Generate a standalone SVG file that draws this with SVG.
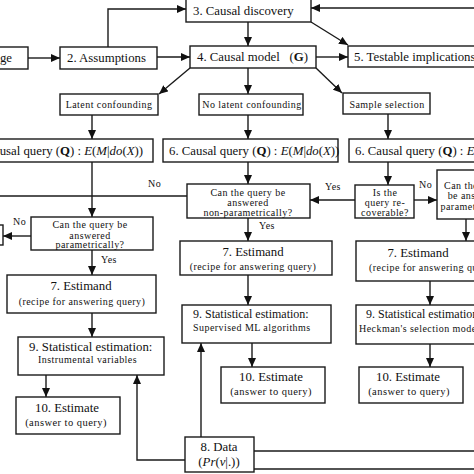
<svg xmlns="http://www.w3.org/2000/svg" width="474" height="474" viewBox="0 0 474 474">
<style>
.b{fill:#fff;stroke:#1a1a1a;stroke-width:1.4}
.c{fill:none;stroke:#1a1a1a;stroke-width:1.4}
text{font-family:"Liberation Serif","DejaVu Serif",serif;font-size:12.8px;fill:#111}
.s{font-size:10px;letter-spacing:0.45px}
.m{text-anchor:middle}
.e{text-anchor:end}
.i{font-style:italic}
.bd{font-weight:bold}
</style>
<defs>
<marker id="a" markerUnits="userSpaceOnUse" markerWidth="9" markerHeight="8" refX="9" refY="4" orient="auto">
<path d="M0,0 L9,4 L0,8 z" fill="#111"/>
</marker>
</defs>
<rect width="474" height="474" fill="#fff"/>
<g id="connectors">
<path class="c" d="M28,58 H60" marker-end="url(#a)"/>
<path class="c" d="M108,47 V9 H186" marker-end="url(#a)"/>
<path class="c" d="M474,8 H311" marker-end="url(#a)"/>
<path class="c" d="M157,57 H190" marker-end="url(#a)"/>
<path class="c" d="M248,22 V46" marker-end="url(#a)"/>
<path class="c" d="M311,22 L348,45" marker-end="url(#a)"/>
<path class="c" d="M316,57 H348" marker-end="url(#a)"/>
<path class="c" d="M190,68 L159,94" marker-end="url(#a)"/>
<path class="c" d="M248,68 V94" marker-end="url(#a)"/>
<path class="c" d="M316,68 L342,93" marker-end="url(#a)"/>
<path class="c" d="M92,115 V139" marker-end="url(#a)"/>
<path class="c" d="M248,115 V139" marker-end="url(#a)"/>
<path class="c" d="M388,114 V139" marker-end="url(#a)"/>
<path class="c" d="M92,162 V217" marker-end="url(#a)"/>
<path class="c" d="M248,162 V184" marker-end="url(#a)"/>
<path class="c" d="M388,162 V185" marker-end="url(#a)"/>
<path class="c" d="M187,196 H0"/>
<path class="c" d="M31,236 H3" marker-end="url(#a)"/>
<path class="c" d="M92,250 V275" marker-end="url(#a)"/>
<path class="c" d="M355,200 H310" marker-end="url(#a)"/>
<path class="c" d="M414,200 H437" marker-end="url(#a)"/>
<path class="c" d="M248,218 V241" marker-end="url(#a)"/>
<path class="c" d="M466,219 V241" marker-end="url(#a)"/>
<path class="c" d="M92,313 V337" marker-end="url(#a)"/>
<path class="c" d="M248,275 V305" marker-end="url(#a)"/>
<path class="c" d="M430,281 V305" marker-end="url(#a)"/>
<path class="c" d="M46,375 V397" marker-end="url(#a)"/>
<path class="c" d="M252,343 V367" marker-end="url(#a)"/>
<path class="c" d="M430,344 V367" marker-end="url(#a)"/>
<path class="c" d="M185,460 H137 V375" marker-end="url(#a)"/>
<path class="c" d="M201,437 V343" marker-end="url(#a)"/>
<path class="c" d="M254,451 H474"/>
<path class="c" d="M254,469 H474"/>
<text class="s" x="148" y="187">No</text>
<text class="s" x="13" y="225">No</text>
<text class="s" x="101" y="262.5">Yes</text>
<text class="s" x="259" y="228.5">Yes</text>
<text class="s" x="325" y="190">Yes</text>
<text class="s" x="419" y="187.5">No</text>
</g>
<g id="n1"><rect class="b" x="-10" y="47" width="38" height="22"/><text class="e" x="12" y="62">1. Knowledge</text></g>
<g id="n2"><rect class="b" x="60" y="47" width="97" height="22"/><text x="67" y="62">2. Assumptions</text></g>
<g id="n3"><rect class="b" x="186" y="-2" width="125" height="24"/><text x="193" y="15">3. Causal discovery</text></g>
<g id="n4"><rect class="b" x="190" y="46" width="126" height="22"/><text x="197" y="61">4. Causal model</text><text class="e" x="308" y="61">(<tspan class="bd">G</tspan>)</text></g>
<g id="n5"><rect class="b" x="348" y="46" width="140" height="21"/><text x="354" y="61">5. Testable implications</text></g>
<g id="latent"><rect class="b" x="60" y="94" width="98" height="21"/><text class="s m" x="109" y="108">Latent confounding</text></g>
<g id="nolatent"><rect class="b" x="199" y="94" width="104" height="21"/><text class="s m" x="252" y="108">No latent confounding</text></g>
<g id="sample"><rect class="b" x="343" y="93" width="87" height="21"/><text class="s m" x="387" y="107.5">Sample selection</text></g>
<g id="q6l"><rect class="b" x="-30" y="139" width="183" height="23"/><text class="e" x="143" y="155">6. Causal query (<tspan class="bd">Q</tspan>) : <tspan class="i">E</tspan>(<tspan class="i">M</tspan>|<tspan class="i">do</tspan>(<tspan class="i">X</tspan>))</text></g>
<g id="q6m"><rect class="b" x="163" y="139" width="175" height="23"/><text x="169" y="155">6. Causal query (<tspan class="bd">Q</tspan>) : <tspan class="i">E</tspan>(<tspan class="i">M</tspan>|<tspan class="i">do</tspan>(<tspan class="i">X</tspan>))</text></g>
<g id="q6r"><rect class="b" x="349" y="139" width="140" height="23"/><text x="355" y="155">6. Causal query (<tspan class="bd">Q</tspan>) : <tspan class="i">E</tspan>(<tspan class="i">M</tspan>|<tspan class="i">do</tspan>(<tspan class="i">X</tspan>))</text></g>
<g id="paramL"><rect class="b" x="31" y="217" width="122" height="33"/><text class="s m" x="90" y="228">Can the query be</text><text class="s m" x="90" y="238.5">answered</text><text class="s m" x="90" y="248">parametrically?</text></g>
<g id="leftsmall"><rect class="b" x="-30" y="225" width="33" height="20"/></g>
<g id="nonparam"><rect class="b" x="187" y="184" width="123" height="34"/><text class="s m" x="248" y="195.5">Can the query be</text><text class="s m" x="248" y="205.5">answered</text><text class="s m" x="248" y="215.5">non-parametrically?</text></g>
<g id="recov"><rect class="b" x="355" y="185" width="59" height="33"/><text class="s m" x="385" y="196">Is the</text><text class="s m" x="385" y="206">query re-</text><text class="s m" x="385" y="216">coverable?</text></g>
<g id="paramR"><rect class="b" x="437" y="170" width="60" height="49"/><text class="s m" x="475" y="189">Can the query</text><text class="s m" x="475" y="199">be answered</text><text class="s m" x="475" y="209.5">parametrically?</text></g>
<g id="e7l"><rect class="b" x="7" y="275" width="149" height="38"/><text class="m" x="81" y="289.5">7. Estimand</text><text class="s m" x="82" y="305">(recipe for answering query)</text></g>
<g id="e7m"><rect class="b" x="180" y="241" width="152" height="34"/><text class="m" x="253" y="255.5">7. Estimand</text><text class="s m" x="253" y="270">(recipe for answering query)</text></g>
<g id="e7r"><rect class="b" x="356" y="241" width="130" height="40"/><text class="m" x="418" y="256.5">7. Estimand</text><text class="s" x="369" y="270.5">(recipe for answering query)</text></g>
<g id="s9l"><rect class="b" x="18" y="337" width="146" height="38"/><text x="29" y="351">9. Statistical estimation:</text><text class="s" x="38" y="362.5">Instrumental variables</text></g>
<g id="s9m"><rect class="b" x="182" y="305" width="149" height="38"/><text x="193" y="318" style="font-size:12px">9. Statistical estimation:</text><text class="s" x="193" y="330.5">Supervised ML algorithms</text></g>
<g id="s9r"><rect class="b" x="356" y="305" width="130" height="39"/><text x="366" y="318" style="font-size:12px">9. Statistical estimation:</text><text class="s" x="359" y="332">Heckman's selection model</text></g>
<g id="t10l"><rect class="b" x="16" y="397" width="104" height="37"/><text class="m" x="67" y="412">10. Estimate</text><text class="s m" x="66" y="425.5" style="font-size:10.5px">(answer to query)</text></g>
<g id="t10m"><rect class="b" x="221" y="367" width="104" height="36"/><text class="m" x="271" y="381">10. Estimate</text><text class="s m" x="271" y="395" style="font-size:10.5px">(answer to query)</text></g>
<g id="t10r"><rect class="b" x="359" y="367" width="104" height="36"/><text class="m" x="408" y="381">10. Estimate</text><text class="s m" x="409" y="395" style="font-size:10.5px">(answer to query)</text></g>
<g id="data"><rect class="b" x="185" y="437" width="69" height="35"/><text class="m" x="219" y="451">8. Data</text><text class="m" x="219" y="466">(<tspan class="i">Pr</tspan>(<tspan class="i">v</tspan>|.))</text></g>
</svg>
